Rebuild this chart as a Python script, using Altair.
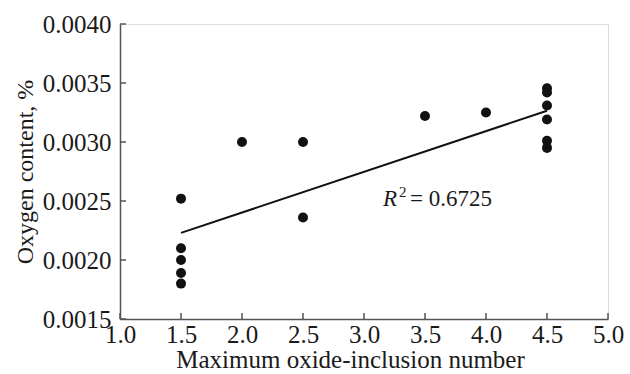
import altair as alt
import pandas as pd

# Scatter data
inclusion_number = [1.5, 1.5, 1.5, 1.5, 1.5, 2.0, 2.5, 2.5, 3.5, 4.0,
                    4.5, 4.5, 4.5, 4.5, 4.5, 4.5]
oxygen_content = [0.00252, 0.00210, 0.00200, 0.00189, 0.00180, 0.00300,
                  0.00300, 0.00236, 0.00322, 0.00325,
                  0.003455, 0.00342, 0.00331, 0.00319, 0.00301, 0.00295]

# Trend line end points
trend_x = [1.5, 4.5]
trend_y = [0.00223, 0.003265]

# Tick values
x_ticks = [1.0, 1.5, 2.0, 2.5, 3.0, 3.5, 4.0, 4.5, 5.0]
y_ticks = [0.0015, 0.0020, 0.0025, 0.0030, 0.0035, 0.0040]

# Annotation
r2_x = [3.155]
r2_y = [0.00246]
r2_value = ["= 0.6725"]

FONT = "Liberation Serif"
W, H = 488, 295
AX = "#555555"
TXT = "#1a1a1a"

pts = pd.DataFrame({"x": inclusion_number, "y": oxygen_content})
trend = pd.DataFrame({"x": trend_x, "y": trend_y})
xt = pd.DataFrame({"v": x_ticks})
yt = pd.DataFrame({"v": y_ticks})
ann = pd.DataFrame({"x": r2_x, "y": r2_y, "t": r2_value})

xscale = alt.Scale(domain=[1.0, 5.0], nice=False, zero=False)
yscale = alt.Scale(domain=[0.0015, 0.0040], nice=False, zero=False)

xaxis = alt.Axis(values=x_ticks, format=".1f", tickSize=0, grid=False,
                 domainColor=AX, domainWidth=1.5, labelFont=FONT, labelFontSize=25,
                 labelColor=TXT, labelPadding=3, labelFlush=False,
                 title="Maximum oxide-inclusion number", titleFont=FONT,
                 titleFontSize=25, titleFontWeight="normal", titleColor=TXT,
                 titlePadding=0, titleX=230)
yaxis = alt.Axis(values=y_ticks, format=".4f", tickSize=0, grid=False,
                 domainColor=AX, domainWidth=1.5, labelFont=FONT, labelFontSize=25,
                 labelColor=TXT, labelPadding=9, labelFlush=False,
                 title="Oxygen content, %", titleFont=FONT, titleFontSize=24,
                 titleFontWeight="normal", titleColor=TXT, titlePadding=5)

base_pts = alt.Chart(pts).mark_circle(size=100, color="#111111", opacity=1).encode(
    x=alt.X("x:Q", scale=xscale, axis=xaxis),
    y=alt.Y("y:Q", scale=yscale, axis=yaxis),
)

line = alt.Chart(trend).mark_line(color="#111111", strokeWidth=2).encode(
    x=alt.X("x:Q", scale=xscale),
    y=alt.Y("y:Q", scale=yscale),
)

xtick_marks = alt.Chart(xt).mark_rule(color=AX, strokeWidth=1.5).encode(
    x=alt.X("v:Q", scale=xscale),
    y=alt.value(H),
    y2=alt.value(H - 6),
)
ytick_marks = alt.Chart(yt).mark_rule(color=AX, strokeWidth=1.5).encode(
    y=alt.Y("v:Q", scale=yscale),
    x=alt.value(0),
    x2=alt.value(6),
)

r_text = alt.Chart(ann).mark_text(font=FONT, fontSize=23, fontStyle="italic",
                                  align="left", baseline="alphabetic",
                                  color=TXT).encode(
    x=alt.X("x:Q", scale=xscale), y=alt.Y("y:Q", scale=yscale), text=alt.value("R"))
sup_text = alt.Chart(ann).mark_text(font=FONT, fontSize=15, align="left",
                                    baseline="alphabetic", dx=16, dy=-9,
                                    color=TXT).encode(
    x=alt.X("x:Q", scale=xscale), y=alt.Y("y:Q", scale=yscale), text=alt.value("2"))
val_text = alt.Chart(ann).mark_text(font=FONT, fontSize=23, align="left",
                                    baseline="alphabetic", dx=27,
                                    color=TXT).encode(
    x=alt.X("x:Q", scale=xscale), y=alt.Y("y:Q", scale=yscale), text="t:N")

chart = alt.layer(base_pts, line, xtick_marks, ytick_marks, r_text, sup_text, val_text).properties(
    width=W, height=H,
    autosize=alt.AutoSizeParams(type="none"),
    padding={"left": 120, "top": 24, "right": 22, "bottom": 55},
).configure_view(stroke=None).configure(background="white")

chart.save("out.html", embed_options={"renderer": "svg", "actions": False})
